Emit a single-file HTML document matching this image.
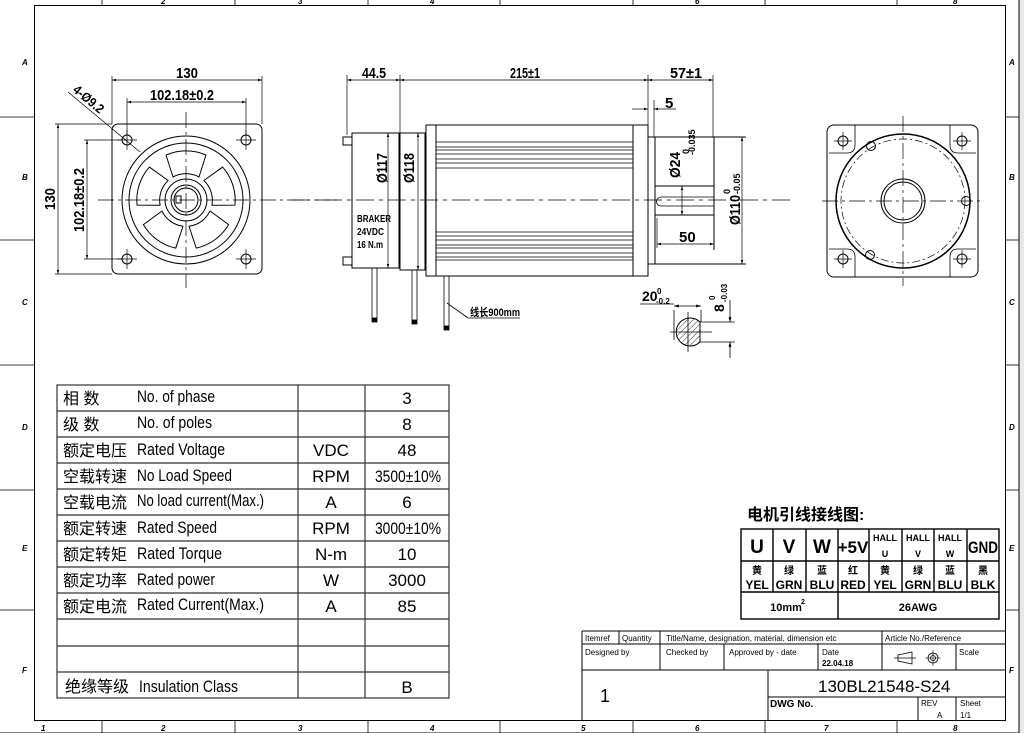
<!DOCTYPE html>
<html><head><meta charset="utf-8"><style>
html,body{margin:0;padding:0;background:#fff;}
svg{display:block;}
text{font-family:"Liberation Sans","Noto Sans CJK SC",sans-serif;fill:#000;}
.b{font-weight:bold;}
</style></head><body>
<svg width="1024" height="733" viewBox="0 0 1024 733" xmlns="http://www.w3.org/2000/svg">
<defs>
<marker id="a" viewBox="0 0 10 10" refX="10" refY="5" markerWidth="6" markerHeight="6" orient="auto-start-reverse"><path d="M0,2 L10,5 L0,8 z" fill="#000"/></marker>
<pattern id="h" width="4" height="4" patternUnits="userSpaceOnUse" patternTransform="rotate(45)"><line x1="0" y1="0" x2="0" y2="4" stroke="#000" stroke-width="0.8"/></pattern>
</defs>
<rect x="1019" y="0" width="5" height="733" fill="#e8e8e8"/>
<g stroke="#000" stroke-width="1" fill="none">
<rect x="34.5" y="5.5" width="971" height="715"/>
<line x1="0" y1="733" x2="1019" y2="733"/>
<line x1="1019" y1="0" x2="1019" y2="733"/>
<g stroke-width="0.8">
<line x1="102" y1="0" x2="102" y2="5"/><line x1="235" y1="0" x2="235" y2="5"/><line x1="368" y1="0" x2="368" y2="5"/><line x1="500" y1="0" x2="500" y2="5"/><line x1="633" y1="0" x2="633" y2="5"/><line x1="765" y1="0" x2="765" y2="5"/><line x1="897" y1="0" x2="897" y2="5"/>
<line x1="102" y1="721" x2="102" y2="733"/><line x1="235" y1="721" x2="235" y2="733"/><line x1="368" y1="721" x2="368" y2="733"/><line x1="500" y1="721" x2="500" y2="733"/><line x1="633" y1="721" x2="633" y2="733"/><line x1="765" y1="721" x2="765" y2="733"/><line x1="897" y1="721" x2="897" y2="733"/>
<line x1="0" y1="117" x2="34" y2="117"/><line x1="0" y1="240" x2="34" y2="240"/><line x1="0" y1="365" x2="34" y2="365"/><line x1="0" y1="490" x2="34" y2="490"/><line x1="0" y1="610" x2="34" y2="610"/>
<line x1="1006" y1="117" x2="1019" y2="117"/><line x1="1006" y1="240" x2="1019" y2="240"/><line x1="1006" y1="365" x2="1019" y2="365"/><line x1="1006" y1="490" x2="1019" y2="490"/><line x1="1006" y1="610" x2="1019" y2="610"/>
</g>
</g>
<g font-size="8" font-style="italic" class="b">
<text x="22" y="65">A</text><text x="22" y="180">B</text><text x="22" y="305">C</text><text x="22" y="430">D</text><text x="22" y="551">E</text><text x="22" y="673">F</text>
<text x="1009" y="65">A</text><text x="1009" y="180">B</text><text x="1009" y="305">C</text><text x="1009" y="430">D</text><text x="1009" y="551">E</text><text x="1009" y="673">F</text>
<text x="41" y="731">1</text><text x="161" y="731">2</text><text x="298" y="731">3</text><text x="430" y="731">4</text><text x="581" y="731">5</text><text x="695" y="731">6</text><text x="824" y="731">7</text><text x="953" y="731">8</text>
<text x="161" y="4">2</text><text x="298" y="4">3</text><text x="430" y="4">4</text><text x="695" y="4">6</text><text x="953" y="4">8</text>
</g>

<!-- front view left -->
<g stroke="#000" fill="none" stroke-width="1">
<rect x="112" y="124" width="150" height="150" rx="6"/>
<circle cx="127" cy="140" r="5"/><circle cx="246" cy="140" r="5"/><circle cx="127" cy="259" r="5"/><circle cx="246" cy="259" r="5"/>
<circle cx="186" cy="200" r="64"/><circle cx="186" cy="200" r="57"/>
<circle cx="186" cy="200" r="21"/><circle cx="186" cy="200" r="15"/><circle cx="186" cy="200" r="12"/>
<rect x="176" y="196" width="5" height="7"/>
<g id="win"><path d="M173,177 L166,155 A50,50 0 0 1 206,155 L199,177 A27,27 0 0 0 173,177 Z" stroke-linejoin="round"/></g>
<use href="#win" transform="rotate(72 186 200)"/><use href="#win" transform="rotate(144 186 200)"/><use href="#win" transform="rotate(216 186 200)"/><use href="#win" transform="rotate(288 186 200)"/>
</g>
<g stroke="#000" stroke-width="0.7" fill="none">
<line x1="98" y1="200" x2="340" y2="200" stroke-dasharray="16,4,3,4"/>
<line x1="186" y1="112" x2="186" y2="288" stroke-dasharray="16,4,3,4"/>
<line x1="117" y1="140" x2="137" y2="140"/><line x1="127" y1="130" x2="127" y2="150"/>
<line x1="236" y1="140" x2="256" y2="140"/><line x1="246" y1="130" x2="246" y2="150"/>
<line x1="117" y1="259" x2="137" y2="259"/><line x1="127" y1="249" x2="127" y2="269"/>
<line x1="236" y1="259" x2="256" y2="259"/><line x1="246" y1="249" x2="246" y2="269"/>
<line x1="112" y1="76" x2="112" y2="124"/><line x1="262" y1="76" x2="262" y2="124"/>
<line x1="112" y1="80" x2="262" y2="80" marker-start="url(#a)" marker-end="url(#a)"/>
<line x1="127" y1="98" x2="127" y2="135"/><line x1="246" y1="98" x2="246" y2="135"/>
<line x1="127" y1="102" x2="246" y2="102" marker-start="url(#a)" marker-end="url(#a)"/>
<line x1="55" y1="124" x2="112" y2="124"/><line x1="55" y1="274" x2="112" y2="274"/>
<line x1="58" y1="124" x2="58" y2="274" marker-start="url(#a)" marker-end="url(#a)"/>
<line x1="84" y1="140" x2="122" y2="140"/><line x1="84" y1="259" x2="122" y2="259"/>
<line x1="87" y1="140" x2="87" y2="259" marker-start="url(#a)" marker-end="url(#a)"/>
<line x1="68" y1="92" x2="140" y2="152"/>
</g>
<g class="b" font-size="15">
<text x="176" y="78" textLength="22" lengthAdjust="spacingAndGlyphs">130</text>
<text x="150" y="100" textLength="64" lengthAdjust="spacingAndGlyphs">102.18±0.2</text>
<text transform="translate(55,210) rotate(-90)" textLength="22" lengthAdjust="spacingAndGlyphs">130</text>
<text transform="translate(84,232) rotate(-90)" textLength="64" lengthAdjust="spacingAndGlyphs">102.18±0.2</text>
<text transform="translate(72,91) rotate(40)" font-size="13" textLength="36" lengthAdjust="spacingAndGlyphs">4-Ø9.2</text>
</g>

<!-- side view -->
<g stroke="#000" fill="none" stroke-width="1">
<rect x="352" y="133" width="47" height="135"/>
<rect x="400" y="133" width="25" height="137"/>
<rect x="343" y="137" width="9" height="8"/><rect x="343" y="257" width="9" height="8"/>
<rect x="426" y="125" width="222" height="151"/>
<line x1="436" y1="125" x2="436" y2="276"/><line x1="633" y1="125" x2="633" y2="276"/>
<g stroke-width="0.8">
<line x1="436" y1="142" x2="633" y2="142"/><line x1="436" y1="147" x2="633" y2="147"/><line x1="436" y1="150" x2="633" y2="150"/><line x1="436" y1="154" x2="633" y2="154"/><line x1="436" y1="159" x2="633" y2="159"/><line x1="436" y1="163" x2="633" y2="163"/><line x1="436" y1="168" x2="633" y2="168"/>
<line x1="436" y1="232" x2="633" y2="232"/><line x1="436" y1="236" x2="633" y2="236"/><line x1="436" y1="240" x2="633" y2="240"/><line x1="436" y1="245" x2="633" y2="245"/><line x1="436" y1="248" x2="633" y2="248"/><line x1="436" y1="253" x2="633" y2="253"/><line x1="436" y1="257" x2="633" y2="257"/><line x1="436" y1="260" x2="633" y2="260"/>
</g>
<line x1="648" y1="137" x2="746" y2="137"/><line x1="655" y1="137" x2="655" y2="264"/><line x1="648" y1="264" x2="746" y2="264"/>
<line x1="655" y1="186" x2="714" y2="186"/><line x1="655" y1="215" x2="714" y2="215"/><line x1="714" y1="137" x2="714" y2="250"/>
<path d="M714,197 L661,197 A4.5,4.5 0 0 0 661,206 L714,206" stroke-width="0.8"/>
<g stroke-width="0.8">
<line x1="372" y1="268" x2="372" y2="318"/><line x1="377" y1="268" x2="377" y2="318"/><rect x="372" y="318" width="5" height="4" fill="#000"/>
<line x1="412" y1="270" x2="412" y2="320"/><line x1="417" y1="270" x2="417" y2="320"/><rect x="412" y="320" width="5" height="4" fill="#000"/>
<line x1="444" y1="276" x2="444" y2="326"/><line x1="449" y1="276" x2="449" y2="326"/><rect x="444" y="326" width="5" height="4" fill="#000"/>
<line x1="447" y1="303" x2="468" y2="318"/><line x1="468" y1="318" x2="520" y2="318"/>
</g>
</g>
<g stroke="#000" stroke-width="0.7" fill="none">
<line x1="292" y1="200" x2="790" y2="200" stroke-dasharray="18,5,4,5"/>
<line x1="347" y1="75" x2="347" y2="135"/><line x1="400" y1="75" x2="400" y2="133"/><line x1="648" y1="75" x2="648" y2="125"/><line x1="713" y1="75" x2="713" y2="137"/>
<line x1="347" y1="80" x2="400" y2="80" marker-start="url(#a)" marker-end="url(#a)"/>
<line x1="400" y1="80" x2="648" y2="80" marker-start="url(#a)" marker-end="url(#a)"/>
<line x1="648" y1="80" x2="713" y2="80" marker-start="url(#a)" marker-end="url(#a)"/>
<line x1="654" y1="100" x2="654" y2="137"/>
<line x1="632" y1="109" x2="648" y2="109" marker-end="url(#a)"/><line x1="676" y1="109" x2="654" y2="109" marker-end="url(#a)"/>
<line x1="388" y1="133" x2="388" y2="268" marker-start="url(#a)" marker-end="url(#a)"/>
<line x1="418" y1="133" x2="418" y2="270" marker-start="url(#a)" marker-end="url(#a)"/>
<line x1="682" y1="186" x2="682" y2="215" marker-start="url(#a)" marker-end="url(#a)"/>
<line x1="742" y1="137" x2="742" y2="264" marker-start="url(#a)" marker-end="url(#a)"/>
<line x1="657" y1="248" x2="657" y2="218"/>
<line x1="657" y1="244" x2="714" y2="244" marker-start="url(#a)" marker-end="url(#a)"/>
</g>
<g class="b" font-size="15">
<text x="362" y="78" textLength="24" lengthAdjust="spacingAndGlyphs">44.5</text>
<text x="510" y="78" textLength="30" lengthAdjust="spacingAndGlyphs">215±1</text>
<text x="670" y="78" textLength="32" lengthAdjust="spacingAndGlyphs">57±1</text>
<text x="665" y="108">5</text>
<text transform="translate(387,183) rotate(-90)" textLength="30" lengthAdjust="spacingAndGlyphs">Ø117</text>
<text transform="translate(414,183) rotate(-90)" textLength="30" lengthAdjust="spacingAndGlyphs">Ø118</text>
<text transform="translate(680,178) rotate(-90)" textLength="26" lengthAdjust="spacingAndGlyphs">Ø24</text>
<text transform="translate(689,154) rotate(-90)" font-size="9">0</text>
<text transform="translate(695,155) rotate(-90)" font-size="9">-0.035</text>
<text transform="translate(740,225) rotate(-90)" textLength="30" lengthAdjust="spacingAndGlyphs">Ø110</text>
<text transform="translate(730,194) rotate(-90)" font-size="9">0</text>
<text transform="translate(740,194) rotate(-90)" font-size="9">-0.05</text>
<text x="679" y="242">50</text>
<text x="357" y="222" font-size="10" textLength="34" lengthAdjust="spacingAndGlyphs">BRAKER</text>
<text x="357" y="235" font-size="10" textLength="27" lengthAdjust="spacingAndGlyphs">24VDC</text>
<text x="357" y="248" font-size="10" textLength="26" lengthAdjust="spacingAndGlyphs">16 N.m</text>
<text x="470" y="316" font-size="11" textLength="50" lengthAdjust="spacingAndGlyphs">线长900mm</text>
</g>
<g stroke="#000" fill="none" stroke-width="0.8">
<path d="M700,322 A14,14 0 1 0 700,342 Z" fill="url(#h)" stroke-width="1"/>
<line x1="674" y1="310" x2="674" y2="340"/><line x1="701" y1="310" x2="701" y2="322"/>
<line x1="674" y1="306" x2="701" y2="306" marker-start="url(#a)" marker-end="url(#a)"/>
<line x1="640" y1="304" x2="674" y2="304"/>
<line x1="700" y1="322" x2="735" y2="322"/><line x1="700" y1="342" x2="735" y2="342"/>
<line x1="730" y1="300" x2="730" y2="322" marker-end="url(#a)"/><line x1="730" y1="358" x2="730" y2="342" marker-end="url(#a)"/>
<line x1="688" y1="312" x2="688" y2="352"/><line x1="670" y1="332" x2="712" y2="332"/>
</g>
<g class="b">
<text x="642" y="301" font-size="14">20</text>
<text x="657" y="294" font-size="8">0</text><text x="656" y="304" font-size="8">-0.2</text>
<text transform="translate(724,312) rotate(-90)" font-size="14">8</text>
<text transform="translate(715,300) rotate(-90)" font-size="8">0</text>
<text transform="translate(727,302) rotate(-90)" font-size="8">-0.03</text>
</g>

<!-- right view -->
<g stroke="#000" fill="none" stroke-width="1">
<rect x="827" y="125" width="151" height="152" rx="7"/>
<path d="M855,125 L855,145 Q855,153 847,153 L829,153 M950,125 L950,145 Q950,153 958,153 L976,153 M855,277 L855,257 Q855,249 847,249 L829,249 M950,277 L950,257 Q950,249 958,249 L976,249" stroke-width="0.8"/>
<circle cx="903" cy="201" r="67" stroke-width="1.5"/>
<circle cx="903" cy="201" r="62" stroke-width="0.7" stroke-dasharray="8,3,2,3"/>
<circle cx="903" cy="201" r="22"/><circle cx="903" cy="201" r="19"/>
<circle cx="843" cy="141" r="5"/><circle cx="962" cy="141" r="5"/><circle cx="843" cy="259" r="5"/><circle cx="962" cy="259" r="5"/>
<circle cx="871" cy="146" r="4.5"/><circle cx="870" cy="255" r="4.5"/><circle cx="966" cy="201" r="4.5"/>
</g>
<g stroke="#000" stroke-width="0.7">
<line x1="822" y1="201" x2="984" y2="201" stroke-dasharray="16,4,3,4"/>
<line x1="903" y1="116" x2="903" y2="286" stroke-dasharray="16,4,3,4"/>
<line x1="834" y1="141" x2="852" y2="141"/><line x1="843" y1="132" x2="843" y2="150"/>
<line x1="953" y1="141" x2="971" y2="141"/><line x1="962" y1="132" x2="962" y2="150"/>
<line x1="834" y1="259" x2="852" y2="259"/><line x1="843" y1="250" x2="843" y2="268"/>
<line x1="953" y1="259" x2="971" y2="259"/><line x1="962" y1="250" x2="962" y2="268"/>
</g>

<!-- spec table -->
<g stroke="#333" stroke-width="1.2" fill="none">
<rect x="57" y="385" width="392" height="313"/>
<line x1="298" y1="385" x2="298" y2="698"/><line x1="365" y1="385" x2="365" y2="698"/>
<line x1="57" y1="411" x2="449" y2="411"/><line x1="57" y1="437" x2="449" y2="437"/><line x1="57" y1="463" x2="449" y2="463"/><line x1="57" y1="489" x2="449" y2="489"/><line x1="57" y1="515" x2="449" y2="515"/><line x1="57" y1="541" x2="449" y2="541"/><line x1="57" y1="567" x2="449" y2="567"/><line x1="57" y1="593" x2="449" y2="593"/><line x1="57" y1="619" x2="449" y2="619"/><line x1="57" y1="646" x2="449" y2="646"/><line x1="57" y1="672" x2="449" y2="672"/>
</g>
<g font-size="16">
<text x="63" y="404">相 数</text><text x="63" y="430">级 数</text><text x="63" y="456">额定电压</text><text x="63" y="482">空载转速</text><text x="63" y="508">空载电流</text><text x="63" y="534">额定转速</text><text x="63" y="560">额定转矩</text><text x="63" y="586">额定功率</text><text x="63" y="612">额定电流</text><text x="65" y="692">绝缘等级</text>
</g>
<g font-size="17">
<text x="137" y="402" textLength="78" lengthAdjust="spacingAndGlyphs">No. of phase</text>
<text x="137" y="428" textLength="75" lengthAdjust="spacingAndGlyphs">No. of poles</text>
<text x="137" y="455" textLength="88" lengthAdjust="spacingAndGlyphs">Rated Voltage</text>
<text x="137" y="481" textLength="95" lengthAdjust="spacingAndGlyphs">No Load Speed</text>
<text x="137" y="506" textLength="127" lengthAdjust="spacingAndGlyphs">No load current(Max.)</text>
<text x="137" y="533" textLength="80" lengthAdjust="spacingAndGlyphs">Rated Speed</text>
<text x="137" y="559" textLength="85" lengthAdjust="spacingAndGlyphs">Rated Torque</text>
<text x="137" y="585" textLength="78" lengthAdjust="spacingAndGlyphs">Rated power</text>
<text x="137" y="610" textLength="127" lengthAdjust="spacingAndGlyphs">Rated Current(Max.)</text>
<text x="139" y="692" textLength="99" lengthAdjust="spacingAndGlyphs">Insulation Class</text>
<g text-anchor="middle">
<text x="331" y="456">VDC</text><text x="331" y="482">RPM</text><text x="331" y="508">A</text><text x="331" y="534">RPM</text><text x="331" y="560">N-m</text><text x="331" y="586">W</text><text x="331" y="612">A</text>
<text x="407" y="404">3</text><text x="407" y="430">8</text><text x="407" y="456">48</text><text x="408" y="482" textLength="66" lengthAdjust="spacingAndGlyphs">3500±10%</text><text x="407" y="508">6</text><text x="408" y="534" textLength="66" lengthAdjust="spacingAndGlyphs">3000±10%</text><text x="407" y="560">10</text><text x="407" y="586">3000</text><text x="407" y="612">85</text><text x="407" y="693">B</text>
</g>
</g>

<!-- wiring table -->
<text x="747" y="520" font-size="16" class="b">电机引线接线图:</text>
<g stroke="#000" stroke-width="1.4" fill="none">
<rect x="741" y="529" width="258" height="90"/>
<line x1="741" y1="561" x2="999" y2="561"/><line x1="741" y1="592" x2="999" y2="592"/>
<line x1="773" y1="529" x2="773" y2="592"/><line x1="806" y1="529" x2="806" y2="592"/><line x1="838" y1="529" x2="838" y2="619"/><line x1="869" y1="529" x2="869" y2="592"/><line x1="902" y1="529" x2="902" y2="592"/><line x1="934" y1="529" x2="934" y2="592"/><line x1="967" y1="529" x2="967" y2="592"/>
</g>
<g class="b" text-anchor="middle">
<g font-size="19"><text x="757" y="553">U</text><text x="789" y="553">V</text><text x="822" y="553">W</text><text x="853" y="553" font-size="17">+5V</text><text x="983" y="553" font-size="17" textLength="30" lengthAdjust="spacingAndGlyphs">GND</text></g>
<g font-size="9"><text x="885" y="541">HALL</text><text x="885" y="557">U</text><text x="918" y="541">HALL</text><text x="918" y="557">V</text><text x="950" y="541">HALL</text><text x="950" y="557">W</text></g>
<g font-size="10"><text x="757" y="574">黄</text><text x="789" y="574">绿</text><text x="822" y="574">蓝</text><text x="853" y="574">红</text><text x="885" y="574">黄</text><text x="918" y="574">绿</text><text x="950" y="574">蓝</text><text x="983" y="574">黑</text></g>
<g font-size="12"><text x="757" y="589">YEL</text><text x="789" y="589">GRN</text><text x="822" y="589">BLU</text><text x="853" y="589">RED</text><text x="885" y="589">YEL</text><text x="918" y="589">GRN</text><text x="950" y="589">BLU</text><text x="983" y="589">BLK</text></g>
<text x="786" y="611" font-size="11">10mm</text><text x="803" y="604" font-size="7">2</text>
<text x="918" y="611" font-size="11">26AWG</text>
</g>

<!-- title block -->
<g stroke="#000" stroke-width="1" fill="none">
<line x1="582" y1="631" x2="1005" y2="631"/><line x1="582" y1="631" x2="582" y2="721"/>
<line x1="582" y1="644" x2="1005" y2="644"/><line x1="582" y1="670" x2="1005" y2="670"/><line x1="768" y1="697" x2="1005" y2="697"/>
<line x1="619" y1="631" x2="619" y2="644"/><line x1="660" y1="631" x2="660" y2="670"/><line x1="882" y1="631" x2="882" y2="670"/>
<line x1="724" y1="644" x2="724" y2="670"/><line x1="818" y1="644" x2="818" y2="670"/><line x1="956" y1="644" x2="956" y2="670"/>
<line x1="768" y1="670" x2="768" y2="721"/><line x1="918" y1="697" x2="918" y2="721"/><line x1="956" y1="697" x2="956" y2="721"/>
<path d="M898,655 L912,652 L912,664 L898,661 Z M894,658 L916,658" stroke-width="0.8"/>
<circle cx="933" cy="658" r="5" stroke-width="0.8"/><circle cx="933" cy="658" r="2.5" stroke-width="0.8"/><path d="M925,658 L941,658 M933,650 L933,666" stroke-width="0.6"/>
</g>
<g font-size="8" font-family="DejaVu Sans, sans-serif">
<text x="585" y="641">Itemref</text><text x="622" y="641">Quantity</text><text x="666" y="641">Title/Name, designation, material, dimension etc</text><text x="885" y="641">Article No./Reference</text>
<text x="585" y="655">Designed by</text><text x="666" y="655">Checked by</text><text x="729" y="655">Approved by - date</text><text x="822" y="655">Date</text><text x="959" y="655">Scale</text>
<text x="921" y="706">REV</text><text x="937" y="718">A</text><text x="960" y="706">Sheet</text><text x="960" y="718">1/1</text>
</g>
<text x="822" y="666" font-size="8" class="b">22.04.18</text>
<text x="770" y="707" font-size="10" class="b">DWG No.</text>
<text x="600" y="702" font-size="18">1</text>
<text x="818" y="692" font-size="17" font-family="DejaVu Sans, sans-serif">130BL21548-S24</text>
</svg>
</body></html>
